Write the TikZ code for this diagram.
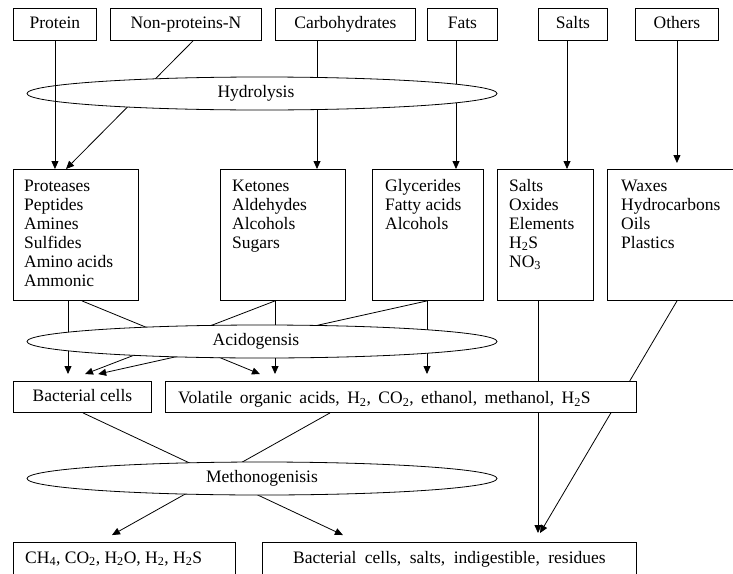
\documentclass[tikz,border=0pt]{standalone}
\usepackage{fontspec}
\setmainfont{Liberation Serif}
\usetikzlibrary{shapes.geometric,arrows.meta,calc}
\pgfdeclarelayer{bg}
\pgfsetlayers{bg,main}
\begin{document}
\begin{tikzpicture}[x=1pt,y=-1pt,
  every node/.style={font=\fontsize{17.5}{19}\selectfont},
  box/.style={draw, line width=0.9pt, fill=white, rectangle, anchor=north west, inner sep=0pt, text height=12pt, text depth=3.5pt},
  proc/.style={draw, ellipse, fill=white, minimum width=470pt, minimum height=33pt, inner sep=0pt, line width=0.8pt, text height=12pt, text depth=3.5pt},
  txt/.style={anchor=north west, inner sep=0pt, align=left},
  ltxt/.style={anchor=base west, inner sep=0pt},
  conn/.style={line width=0.8pt},
  arr/.style={conn, -{Triangle[length=8pt,width=7pt]}}
]
\useasboundingbox (0,0) rectangle (733,573);
\clip (0,0) rectangle (733,573);

% top row
\node[box, minimum width=83pt, minimum height=32pt] (protein) at (13,8) {Protein};
\node[box, minimum width=151pt, minimum height=32pt] (nonprot) at (110,8) {Non-proteins-N};
\node[box, minimum width=140pt, minimum height=32pt] (carbo) at (275,8) {Carbohydrates};
\node[box, minimum width=70pt, minimum height=32pt] (fats) at (427,8) {Fats};
\node[box, minimum width=69pt, minimum height=32pt] (salts) at (538,8) {Salts};
\node[box, minimum width=83pt, minimum height=32pt] (others) at (635,8) {Others};

% middle row
\node[box, minimum width=125pt, minimum height=131pt] (mb1) at (13,169) {};
\node[box, minimum width=125pt, minimum height=131pt] (mb2) at (220,169) {};
\node[box, minimum width=111pt, minimum height=131pt] (mb3) at (372,169) {};
\node[box, minimum width=96pt, minimum height=131pt] (mb4) at (497,169) {};
\node[box, minimum width=126pt, minimum height=131pt] (mb5) at (607,169) {};
\node[txt] (t1) at ($(mb1.north west)+(11,8.7)$) {\strut Proteases\\Peptides\\Amines\\Sulfides\\Amino acids\\Ammonic};
\node[txt] (t2) at ($(mb2.north west)+(12,8.7)$) {\strut Ketones\\Aldehydes\\Alcohols\\Sugars};
\node[txt] (t3) at ($(mb3.north west)+(13,8.7)$) {\strut Glycerides\\Fatty acids\\Alcohols};
\node[txt] (t4) at ($(mb4.north west)+(12,8.7)$) {\strut Salts\\Oxides\\Elements\\H\textsubscript{2}S\\NO\textsubscript{3}};
\node[txt] (t5) at ($(mb5.north west)+(14,8.7)$) {\strut Waxes\\Hydrocarbons\\Oils\\Plastics};

% lower rows
\node[box, minimum width=138pt, minimum height=31pt] (bac) at (13,381) {Bacterial cells};
\node[box, minimum width=471pt, minimum height=31pt] (vol) at (165,381) {};
\node[ltxt] (volt) at ($(vol.west)+(13,6.5)$) {\spaceskip=7.5pt\relax Volatile organic acids, H\textsubscript{2}, CO\textsubscript{2}, ethanol, methanol, H\textsubscript{2}S};
\node[box, minimum width=222pt, minimum height=60pt] (ch4) at (13,542) {};
\node[ltxt] (ch4t) at ($(ch4.north west)+(12,21)$) {CH\textsubscript{4}, CO\textsubscript{2}, H\textsubscript{2}O, H\textsubscript{2}, H\textsubscript{2}S};
\node[box, minimum width=374pt, minimum height=60pt] (bres) at (262,542) {};
\node[anchor=base, inner sep=0pt] (brest) at ($(bres.north)+(0,21)$) {\spaceskip=8.5pt\relax Bacterial cells, salts, indigestible, residues};

% process ellipses
\node[proc] (hyd) at (262,93.5) {\hspace*{-12pt}Hydrolysis};
\node[proc] (acid) at (262,341.5) {\hspace*{-12pt}Acidogensis};
\node[proc] (meth) at (262,478.5) {Methonogenisis};

% connectors behind
\begin{pgfonlayer}{bg}
\draw[arr] (193,0 |- nonprot.south) -- (66,0 |- mb1.north);
\draw[arr] (317,0 |- carbo.south) -- (317,0 |- mb2.north);
\draw[arr] (456,0 |- fats.south) -- (456,0 |- mb3.north);
\draw[arr, shorten <=-5pt] (567,0 |- salts.south) -- (567,0 |- mb4.north);
\draw[arr, shorten >=6pt] (others.south) -- (others.south |- mb5.north);

\draw[arr, shorten >=7pt] (68,0 |- mb1.south) -- (68,0 |- bac.north);
\draw[arr, shorten >=18.2pt] (82,0 |- mb1.south) -- (276.8,0 |- vol.north);
\draw[arr, shorten >=19.3pt] (275,0 |- mb2.south) -- (67,0 |- bac.north);
\draw[arr, shorten >=7pt] (275,0 |- mb2.south) -- (275,0 |- vol.north);
\draw[arr, shorten >=31.9pt] (427,0 |- mb3.south) -- (67,0 |- bac.north);
\draw[arr, shorten >=7pt] (427,0 |- mb3.south) -- (427,0 |- vol.north);

\draw[arr, shorten >=9pt] (538,0 |- mb4.south) -- (538,0 |- bres.north);
\draw[arr, shorten >=10.4pt] (677,0 |- mb5.south) -- (534.7,0 |- bres.north);

\draw[arr, shorten >=16.4pt] (83,0 |- bac.south) -- (357.8,0 |- bres.north);
\draw[arr, shorten >=14.2pt] (330,0 |- vol.south) -- (99.6,0 |- ch4.north);
\end{pgfonlayer}

% protein arrow drawn over the ellipse
\draw[arr] (protein.south) -- (protein.south |- mb1.north);
\end{tikzpicture}
\end{document}
